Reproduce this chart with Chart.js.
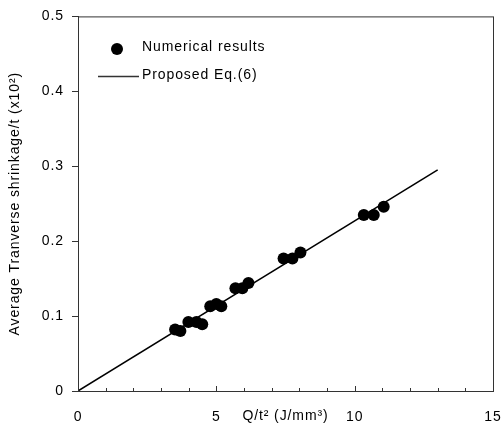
<!DOCTYPE html>
<html>
<head>
<meta charset="utf-8">
<script src="https://cdn.jsdelivr.net/npm/chart.js@4/dist/chart.umd.min.js"></script>
<style>
html,body{margin:0;padding:0;background:#fff;}
#wrap{width:503px;height:427px;position:relative;}
</style>
</head>
<body>
<div id="wrap"><canvas id="c" width="503" height="427"></canvas></div>
<script>
// Numerical results
const numX = [3.51, 3.70, 3.99, 4.28, 4.49, 4.78, 5.00, 5.18, 5.69, 5.94, 6.16, 7.43, 7.75, 8.04, 10.33, 10.69, 11.05];
const numY = [0.082, 0.080, 0.092, 0.092, 0.089, 0.113, 0.116, 0.113, 0.137, 0.137, 0.144, 0.177, 0.177, 0.185, 0.235, 0.235, 0.246];
// Proposed Eq.(6) line endpoints
const eqX = [0, 13];
const eqY = [0, 0.295];
const xTickLabels = [0, 5, 10, 15];
const yTickLabels = [0, 0.1, 0.2, 0.3, 0.4, 0.5];
const seriesNames = ['Numerical results', 'Proposed Eq.(6)'];
const xTitle = 'Q/t\u00B2 (J/mm\u00B3)';
const yTitle = 'Average Tranverse shrinkage/t (x10\u00B2)';

const FONT = '"Liberation Sans", Arial, sans-serif';
const FS = 14;
const SPACING = '0.9px';

const spacingPlugin = {
  id: 'spacing',
  beforeDraw(chart) { chart.ctx.letterSpacing = SPACING; }
};

const framePlugin = {
  id: 'frame',
  afterDraw(chart) {
    const {ctx, chartArea: a, scales} = chart;
    ctx.save();
    ctx.letterSpacing = SPACING;
    ctx.strokeStyle = '#333';
    ctx.lineWidth = 1;
    ctx.strokeRect(a.left + 0.5, a.top + 0.5, a.right - a.left, a.bottom - a.top);
    // minor inside ticks on x axis
    const xs = scales.x;
    for (let v = 1; v < 15; v++) {
      const px = Math.round(xs.getPixelForValue(v)) + 0.5;
      const len = (v % 5 === 0) ? 5 : 3;
      ctx.beginPath();
      ctx.moveTo(px, a.bottom);
      ctx.lineTo(px, a.bottom - len);
      ctx.stroke();
    }
    // x-axis title inline with tick labels
    ctx.fillStyle = '#000';
    ctx.font = FS + 'px ' + FONT;
    ctx.textAlign = 'center';
    ctx.textBaseline = 'middle';
    ctx.fillText(xTitle, xs.getPixelForValue(7.5), 416);
    // legend
    ctx.textAlign = 'left';
    ctx.beginPath();
    ctx.arc(117, 49, 6, 0, Math.PI * 2);
    ctx.fill();
    ctx.fillText(seriesNames[0], 142, 47);
    ctx.beginPath();
    ctx.moveTo(98, 76.5);
    ctx.lineTo(139, 76.5);
    ctx.lineWidth = 1.5;
    ctx.stroke();
    ctx.fillText(seriesNames[1], 142, 75);
    ctx.restore();
  }
};

new Chart(document.getElementById('c'), {
  type: 'scatter',
  data: {
    datasets: [
      {
        label: seriesNames[1],
        data: eqX.map((x, i) => ({x, y: eqY[i]})),
        showLine: true,
        borderColor: '#000',
        borderWidth: 1.5,
        pointRadius: 0,
        fill: false
      },
      {
        label: seriesNames[0],
        data: numX.map((x, i) => ({x, y: numY[i]})),
        backgroundColor: '#000',
        borderColor: '#000',
        pointRadius: 6,
        pointBorderWidth: 0
      }
    ]
  },
  options: {
    responsive: false,
    animation: false,
    layout: {padding: {top: 15, right: 10, left: 0, bottom: 0}},
    plugins: {legend: {display: false}, tooltip: {enabled: false}},
    scales: {
      x: {
        type: 'linear',
        min: 0, max: 15,
        afterFit(s) { s.height = 36; s.paddingRight = 0; },
        ticks: {
          stepSize: 5,
          autoSkip: false,
          color: '#000',
          font: {family: FONT, size: FS},
          padding: 18,
          maxRotation: 0,
          callback: v => xTickLabels.includes(v) ? String(v) : ''
        },
        grid: {display: true, drawOnChartArea: false, drawTicks: false, color: '#333'},
        border: {display: true, color: '#333'}
      },
      y: {
        type: 'linear',
        min: 0, max: 0.5,
        afterFit(s) { s.width = 78; },
        ticks: {
          stepSize: 0.1,
          color: '#000',
          font: {family: FONT, size: FS},
          padding: 8,
          callback: v => {
            const r = Math.round(v * 10) / 10;
            return yTickLabels.includes(r) ? (r === 0 ? '0' : r.toFixed(1)) : '';
          }
        },
        grid: {display: true, drawOnChartArea: false, drawTicks: true, tickLength: 6, color: '#333'},
        border: {display: true, color: '#333'},
        title: {
          display: true,
          text: yTitle,
          color: '#000',
          font: {family: FONT, size: FS},
          padding: {top: 7, bottom: 0}
        }
      }
    }
  },
  plugins: [spacingPlugin, framePlugin]
});
</script>
</body>
</html>
